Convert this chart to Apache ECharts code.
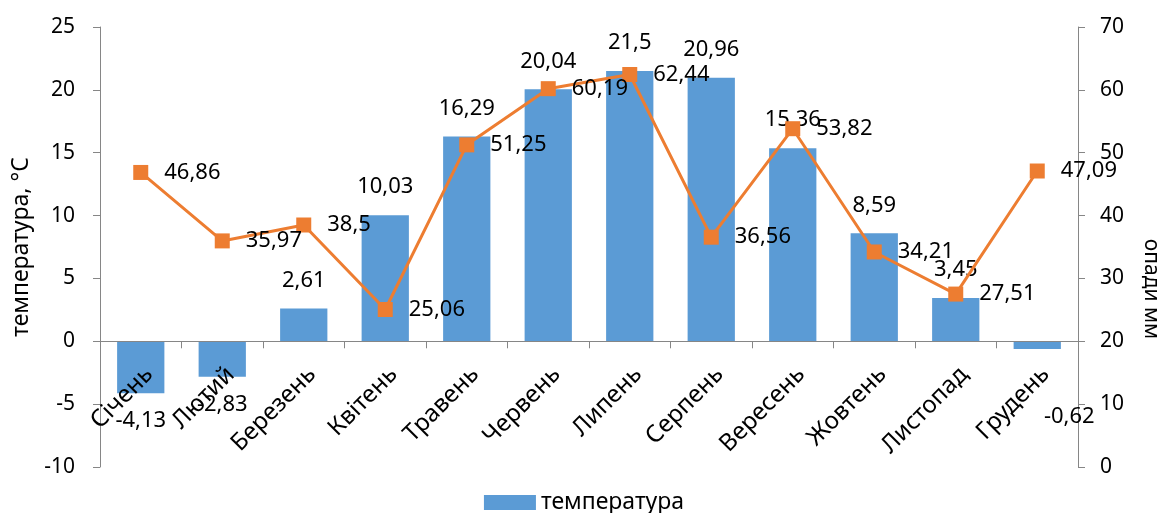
<!DOCTYPE html>
<html>
<head>
<meta charset="utf-8">
<script src="https://cdn.jsdelivr.net/npm/echarts@6/dist/echarts.min.js"></script>
<style>
  html, body { margin: 0; padding: 0; background: #fff; }
  #chart { width: 1168px; height: 513px; }
</style>
</head>
<body>
<div id="chart"></div>
<script>
const months = ["Січень", "Лютий", "Березень", "Квітень", "Травень", "Червень",
  "Липень", "Серпень", "Вересень", "Жовтень", "Листопад", "Грудень"];
const temperature = [-4.13, -2.83, 2.61, 10.03, 16.29, 20.04, 21.5, 20.96, 15.36, 8.59, 3.45, -0.62];
const precipitation = [46.86, 35.97, 38.5, 25.06, 51.25, 60.19, 62.44, 36.56, 53.82, 34.21, 27.51, 47.09];

const FONT = "Noto Sans";
const AXIS_GREY = "#868686";
const fmt = (v) => String(v).replace(".", ","); // десятична кома

const TEMP_MIN = -10, TEMP_MAX = 25;
const GRID = { left: 100, right: 90, top: 27, bottom: 46 };
const plotHeight = 513 - GRID.top - GRID.bottom;
// вісь категорій з підписами проходить через нуль лівої осі
const zeroOffset = -plotHeight * (0 - TEMP_MIN) / (TEMP_MAX - TEMP_MIN);

// підпис грудня в оригіналі зсунутий вручну
const barData = temperature.map((v, i) =>
  i === temperature.length - 1 ? { value: v, label: { offset: [32, 40] } } : v
);

const chart = echarts.init(document.getElementById("chart"));

chart.setOption({
  animation: false,
  textStyle: { fontFamily: FONT, color: "#000" },
  grid: { ...GRID, outerBoundsMode: "none", containLabel: false },
  legend: {
    bottom: -6,
    left: "center",
    data: [{ name: "температура", icon: "rect" }],
    itemWidth: 52,
    itemHeight: 15,
    itemGap: 6,
    textStyle: { fontFamily: FONT, fontSize: 23, color: "#000" },
  },
  xAxis: {
    type: "category",
    data: months,
    position: "bottom",
    offset: zeroOffset,
    z: 5,
    axisLine: { onZero: false, lineStyle: { color: AXIS_GREY } },
    axisTick: { show: true, lineStyle: { color: AXIS_GREY }, length: 7 },
    axisLabel: {
      rotate: 45,
      fontSize: 24,
      color: "#000",
      margin: 21,
      interval: 0,
      verticalAlign: "top",
    },
  },
  yAxis: [
    {
      type: "value",
      min: TEMP_MIN,
      max: TEMP_MAX,
      interval: 5,
      name: "температура, °C",
      nameLocation: "middle",
      nameGap: 66,
      nameTextStyle: { fontSize: 23, color: "#000" },
      axisLine: { show: true, lineStyle: { color: AXIS_GREY } },
      axisTick: { show: true, length: 7, lineStyle: { color: AXIS_GREY } },
      axisLabel: { fontSize: 21, color: "#000", margin: 25 },
      splitLine: { show: false },
    },
    {
      type: "value",
      min: 0,
      max: 70,
      interval: 10,
      position: "right",
      name: "опади мм",
      nameLocation: "middle",
      nameRotate: -90,
      nameGap: 62,
      nameTextStyle: { fontSize: 21, color: "#000", padding: [0, 0, 0, 84] },
      axisLine: { show: true, lineStyle: { color: AXIS_GREY } },
      axisTick: { show: true, length: 7, lineStyle: { color: AXIS_GREY } },
      axisLabel: { fontSize: 21, color: "#000", margin: 22 },
      splitLine: { show: false },
    },
  ],
  series: [
    {
      name: "температура",
      type: "bar",
      data: barData,
      barWidth: "58%",
      itemStyle: { color: "#5B9BD5" },
      label: {
        show: true,
        position: "outside",
        distance: 17,
        fontSize: 22,
        color: "#000",
        formatter: (p) => fmt(p.value),
      },
    },
    {
      name: "опади",
      type: "line",
      yAxisIndex: 1,
      data: precipitation,
      symbol: "rect",
      symbolSize: 15,
      lineStyle: { color: "#ED7D31", width: 3 },
      itemStyle: { color: "#ED7D31" },
      label: {
        show: true,
        position: "right",
        distance: 16,
        fontSize: 22,
        color: "#000",
        formatter: (p) => fmt(p.value),
      },
    },
  ],
});
</script>
</body>
</html>
